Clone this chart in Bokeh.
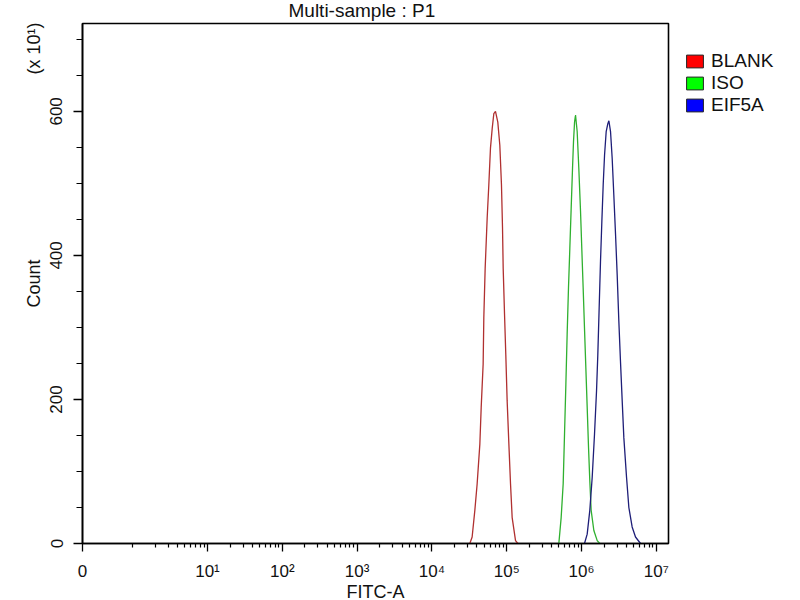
import math
from bokeh.plotting import figure
from bokeh.models import (FixedTicker, CustomJSTickFormatter, Label, Legend,
                          LegendItem, Range1d, ColumnDataSource, BoxAnnotation)
from bokeh.embed import file_html
from bokeh.resources import INLINE

# ---------------- data ----------------
series_names = ["BLANK", "ISO", "EIF5A"]

# FITC-A intensity given as log10 values, counts in units of x10^1
blank_log10 = [4.507, 4.538, 4.574, 4.605, 4.641, 4.659, 4.685, 4.694, 4.712, 4.739,
               4.761, 4.783, 4.806, 4.828, 4.850, 4.881, 4.908, 4.930, 4.944, 4.953,
               4.971, 4.988, 5.006, 5.029, 5.051, 5.073, 5.118, 5.149]
blank_count = [0, 9, 46, 83, 138, 189, 249, 313, 382, 452,
               498, 549, 576, 597, 600, 585, 553, 498, 438, 382,
               318, 262, 198, 138, 83, 36, 4, 0]

iso_log10 = [5.697, 5.728, 5.755, 5.773, 5.791, 5.808, 5.826, 5.844, 5.862, 5.880,
             5.893, 5.907, 5.920, 5.942, 5.964, 5.987, 6.005, 6.022, 6.040, 6.058,
             6.076, 6.094, 6.111, 6.129, 6.165, 6.210, 6.245]
iso_count = [0, 36, 83, 152, 221, 290, 355, 410, 466, 521,
             558, 585, 595, 572, 521, 461, 406, 355, 299, 244,
             189, 133, 87, 46, 18, 4, 0]

eif5a_log10 = [6.040, 6.076, 6.111, 6.143, 6.174, 6.201, 6.218, 6.236, 6.254, 6.272,
               6.290, 6.308, 6.330, 6.352, 6.366, 6.388, 6.410, 6.432, 6.455, 6.477,
               6.499, 6.521, 6.544, 6.566, 6.602, 6.633, 6.677, 6.722, 6.789]
eif5a_count = [0, 13, 46, 92, 152, 212, 262, 327, 392, 447,
               498, 539, 572, 583, 587, 572, 535, 484, 429, 373,
               309, 253, 198, 147, 92, 50, 23, 9, 0]

x_zero_log10 = -0.671          # where the axis shows "0"
x_max_log10 = 7.163
x_tick_log10 = [x_zero_log10, 1, 2, 3, 4, 5, 6, 7]
x_tick_labels = ["0", "10\u00b9", "10\u00b2", "10\u00b3", "10\u2074", "10\u2075", "10\u2076", "10\u2077"]
y_tick_values = [0, 200, 400, 600]
y_minor_values = [50, 100, 150, 250, 300, 350, 450, 500, 550, 650, 700]
y_max = 722

line_colors = ["#b03030", "#2fb02f", "#1e1e78"]
legend_colors = ["#ff0000", "#00ff00", "#0000ff"]

FONT = "Liberation Sans"
W, H = 800, 600
# plot box inside the canvas (pixels): left, right, top, bottom
BOX_L, BOX_R, BOX_T, BOX_B = 82, 668, 23, 543

dec_per_px = (x_max_log10 - x_zero_log10) / (BOX_R - BOX_L)
cnt_per_px = y_max / (BOX_B - BOX_T)
x_start = 10 ** (x_zero_log10 - BOX_L * dec_per_px)
x_end = 10 ** (x_max_log10 + (W - BOX_R) * dec_per_px)
y_start = -(H - BOX_B) * cnt_per_px
y_end = y_max + BOX_T * cnt_per_px

x_zero = 10 ** x_zero_log10
x_max = 10 ** x_max_log10

p = figure(width=W, height=H, x_axis_type="log",
           x_range=Range1d(x_start, x_end), y_range=Range1d(y_start, y_end),
           output_backend="svg", toolbar_location=None, min_border=0,
           min_border_left=0, min_border_right=0, min_border_top=0, min_border_bottom=0)
p.xgrid.visible = False
p.ygrid.visible = False
p.outline_line_color = None
p.background_fill_color = "white"
p.border_fill_color = "white"

# plot box
p.add_layout(BoxAnnotation(left=x_zero, right=x_max, bottom=0, top=y_max,
                           fill_alpha=0, line_color="black", line_alpha=1.0,
                           line_width=1.6, level="underlay"))

# minor ticks of the x axis (decoration)
x_minor = [m * 1.0 for m in range(1, 10)]
for d in range(1, 7):
    x_minor += [m * 10 ** d for m in range(2, 10)]
x_tick_values = [10 ** v for v in x_tick_log10]

xa = p.xaxis[0]
xa.fixed_location = 0
xa.bounds = (x_zero, x_max)
xa.ticker = FixedTicker(ticks=x_tick_values, minor_ticks=x_minor)
xa.formatter = CustomJSTickFormatter(args=dict(vals=x_tick_values, labs=x_tick_labels), code="""
    let best = 0, bd = Infinity;
    for (let i = 0; i < vals.length; i++) {
        const d = Math.abs(Math.log10(vals[i]) - Math.log10(tick));
        if (d < bd) { bd = d; best = i; }
    }
    return labs[best];
""")
xa.major_tick_out = 8
xa.major_tick_in = 0
xa.minor_tick_out = 4
xa.minor_tick_in = 0
xa.major_label_standoff = 10
xa.major_label_text_font = FONT
xa.major_label_text_font_size = "17px"
xa.major_label_text_color = "#111111"
xa.axis_label = "FITC-A"
xa.axis_label_text_font = FONT
xa.axis_label_text_font_size = "18px"
xa.axis_label_text_font_style = "normal"
xa.axis_label_text_color = "#111111"
xa.axis_label_standoff = -2
xa.axis_line_width = 1.6
xa.major_tick_line_width = 1.3
xa.minor_tick_line_width = 1.2

ya = p.yaxis[0]
ya.fixed_location = x_zero
ya.bounds = (0, y_max)
ya.ticker = FixedTicker(ticks=y_tick_values, minor_ticks=y_minor_values)
ya.major_tick_out = 9
ya.major_tick_in = 0
ya.minor_tick_out = 6
ya.minor_tick_in = 0
ya.major_label_orientation = "vertical"
ya.major_label_standoff = 11
ya.major_label_text_font = FONT
ya.major_label_text_font_size = "17px"
ya.major_label_text_color = "#111111"
ya.axis_label = "Count"
ya.axis_label_text_font = FONT
ya.axis_label_text_font_size = "18px"
ya.axis_label_text_font_style = "normal"
ya.axis_label_text_color = "#111111"
ya.axis_label_standoff = 4
ya.axis_line_width = 1.6
ya.major_tick_line_width = 1.3
ya.minor_tick_line_width = 1.2

series = [(blank_log10, blank_count), (iso_log10, iso_count), (eif5a_log10, eif5a_count)]
for (lx, cnt), col in zip(series, line_colors):
    src = ColumnDataSource(dict(x=[10 ** v for v in lx], y=cnt))
    p.line("x", "y", source=src, line_color=col, line_width=1.3)

# legend swatches (renderers with one undrawable NaN row, used only for the legend)
nan = float("nan")
items = []
for name, col in zip(series_names, legend_colors):
    r = p.quad(left=[nan], right=[nan], top=[nan], bottom=[nan], fill_color=col,
               line_color="#222222", line_width=1)
    items.append(LegendItem(label=name, renderers=[r]))
legend = Legend(items=items, location=(684, 484), glyph_width=21, glyph_height=16,
                label_height=12, label_text_font=FONT, label_text_font_size="19px",
                label_text_color="#111111", label_standoff=6, spacing=-7,
                padding=8, margin=0, border_line_color=None, background_fill_alpha=0)
p.add_layout(legend)


# helper: place texts by reference-picture pixel positions (through the scales)
def xd(px):
    return 10 ** (x_zero_log10 + (px - BOX_L) * dec_per_px)


def yd(py):
    return (BOX_B - py) * cnt_per_px


p.add_layout(Label(x=xd(288), y=yd(10), text="Multi-sample : P1", text_font=FONT,
                   text_font_size="19px", text_align="left", text_baseline="alphabetic",
                   text_color="#111111"))
p.add_layout(Label(x=xd(33.5), y=yd(48), text="(x 10\u00b9)", text_font=FONT,
                   text_font_size="18px", text_align="center", text_baseline="middle",
                   angle=math.pi / 2, text_color="#111111"))

open("out.html", "w").write(file_html(p, INLINE))
